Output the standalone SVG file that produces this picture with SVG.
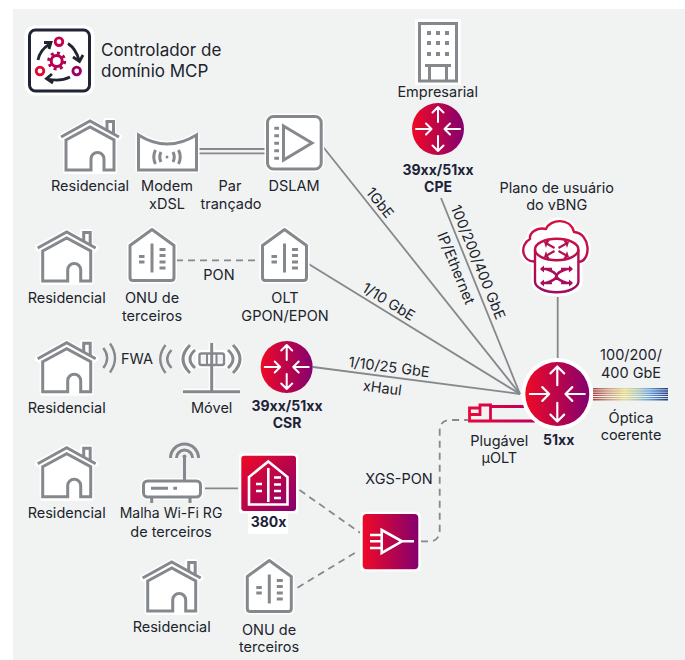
<svg xmlns="http://www.w3.org/2000/svg" width="685" height="660" viewBox="0 0 685 660">
<style>
text{font-family:Inter,"Liberation Sans",sans-serif;font-size:14.5px;fill:#20232b;text-anchor:middle}
.b{font-weight:700;font-size:14px;fill:#1d2238}
.ln{fill:none;stroke:#85898d;stroke-width:1.8}
.dash{stroke-dasharray:7 5}
.g{fill:none;stroke:#85898d;stroke-width:3;stroke-linecap:butt;stroke-linejoin:miter}
.gr{fill:none;stroke:#85898d;stroke-width:3;stroke-linejoin:round}
.halo{fill:#fff;stroke:#fff;stroke-width:6;stroke-linejoin:round}
.haloN{fill:none;stroke:#fff;stroke-width:6;stroke-linejoin:round}
.w{fill:none;stroke:#fff;stroke-width:2;stroke-linecap:round;stroke-linejoin:round}
.w3{fill:none;stroke:#fff;stroke-width:2.6;stroke-linejoin:miter}
.dk{fill:none;stroke:#1f2533;stroke-width:2.8}
.rb{fill:none;stroke:url(#rainbow);stroke-width:1.4}
.v{fill:none;stroke:url(#vg);stroke-width:2.4;stroke-linejoin:round}
</style>
<defs>
<linearGradient id="rg"><stop offset="0" stop-color="#ef0a26"/><stop offset="1" stop-color="#85006f"/></linearGradient>
<linearGradient id="rg2" x1="0" y1="0" x2="1" y2="1"><stop offset="0" stop-color="#ef0a26"/><stop offset="1" stop-color="#85006f"/></linearGradient>
<linearGradient id="vg" gradientUnits="userSpaceOnUse" x1="556" y1="218" x2="556" y2="293"><stop offset="0" stop-color="#d8103c"/><stop offset="1" stop-color="#9c0c64"/></linearGradient>
<linearGradient id="pl" gradientUnits="userSpaceOnUse" x1="468" y1="0" x2="535" y2="0"><stop offset="0" stop-color="#e8083a"/><stop offset="1" stop-color="#b8005e"/></linearGradient>
<linearGradient id="rainbow" gradientUnits="userSpaceOnUse" x1="593" y1="0" x2="668" y2="0"><stop offset="0" stop-color="#a8403f"/><stop offset=".2" stop-color="#c89a80"/><stop offset=".42" stop-color="#e8dc88"/><stop offset=".6" stop-color="#a8c8b0"/><stop offset=".75" stop-color="#6aa0dc"/><stop offset="1" stop-color="#1c3c80"/></linearGradient>
<g id="house">
<path class="halo" d="M-29,17 L0,1 L16,10 V1 H23 V14 L29,17 L24,20 V51 H-24 V20 Z"/>
<path class="g" d="M-29,17 L0,1 L29,17"/>
<path class="g" d="M17,10 V1.500 H23.500 V14"/>
<path class="g" d="M-24,20 L0,7 L24,20 V50 H14 V39 A6.500,6.500 0 0 0 1,39 V50 H-24 Z"/>
</g>
<g id="onu">
<path class="halo" d="M0,0 L22,16 V48 Q22,51 19,51 H-19 Q-22,51 -22,48 V16 Z"/>
<path class="gr" d="M0,0 L22,16 V48 Q22,51 19,51 H-19 Q-22,51 -22,48 V16 Z"/>
<path class="gr" d="M0,14 V43"/>
<path class="g" d="M-13,27 H-7.500 M-13,32.500 H-7.500 M7.500,20 H13.500 M7.500,26 H13.500 M7.500,32.500 H13.500 M7.500,38.500 H13.500"/>
</g>
<g id="arr">
<path d="M0,-7 V-22 M-5.500,-16.500 L0,-22 L5.500,-16.500 M0,7 V22 M-5.500,16.500 L0,22 L5.500,16.500 M-22,0 H-6.500 M-12,-5.500 L-6.500,0 L-12,5.500 M22,0 H6.500 M12,-5.500 L6.500,0 L12,5.500"/>
</g>
</defs>
<rect x="13" y="9" width="672" height="651" fill="#f1f3f3"/>

<g id="connectors">
<path class="ln" d="M320,143 L520,394"/>
<path class="ln" d="M307,263 L520,394"/>
<path class="ln" d="M313,367 L520,394"/>
<path class="ln" d="M441,198 L520,394"/>
<path class="ln" d="M557.700,297 V358"/>
<path class="ln" d="M197,149 H265 M197,153.300 H265"/>
<path class="ln dash" d="M176,260.300 H260"/>
<path class="ln" d="M205,488.300 H238"/>
<path class="ln dash" d="M299.500,490 L360,532.700"/>
<path class="ln dash" d="M297.500,587.700 L358.500,550.700"/>
<path class="ln dash" d="M421,541.300 H429 Q439.700,541.300 439.700,530 V431 Q439.700,420 450,420 H468"/>
<path class="ln" d="M103.300,348 Q111,358 103.300,368 M110,343.500 Q120,358 110,372.500" style="stroke-width:2.400"/>
<path class="ln" d="M171.500,350 Q163,359 171.500,368 M165.500,345 Q155,359 165.500,373" style="stroke-width:2.400"/>
</g>

<g id="controller">
<rect x="28.500" y="29.500" width="62" height="62" rx="6" fill="#fff" stroke="#fff" stroke-width="8"/>
<rect x="29.500" y="30" width="60" height="61" rx="6" fill="#fff" stroke="#1f2533" stroke-width="3"/>
<circle cx="59" cy="41.700" r="3.800" fill="none" stroke="#c5004f" stroke-width="2.800"/>
<circle cx="40" cy="71" r="3.800" fill="none" stroke="#e0082f" stroke-width="2.800"/>
<circle cx="76.700" cy="71" r="3.800" fill="none" stroke="#9a0068" stroke-width="2.800"/>
<circle cx="56.700" cy="61" r="5.500" fill="none" stroke="#b50052" stroke-width="3"/>
<circle cx="56.700" cy="61" r="8" fill="none" stroke="#b50052" stroke-width="3" stroke-dasharray="3 3.280"/>
<path class="dk" d="M38,60 Q40,50 49,44.500 M44,42.500 L51,42.500 L49,49"/>
<path class="dk" d="M68,43.500 Q76,49 79,60 M73,57 L79.500,61.500 L83,55"/>
<path class="dk" d="M70,77 Q60,82 47.500,79 M52,74 L46.500,78.700 L53,83"/>
<text x="101" y="56" style="text-anchor:start;font-size:17px">Controlador de</text>
<text x="101" y="76.500" style="text-anchor:start;font-size:17px">domínio MCP</text>
</g>

<g id="res1"><use href="#house" x="90" y="120"/><text x="90" y="191">Residencial</text></g>
<g id="modem">
<path class="halo" d="M138.500,135 Q167,153 196.500,135 V170 H138.500 Z"/>
<path class="g" d="M138.500,135 Q167,153 196.500,135 V170 H138.500 Z"/>
<path class="g" d="M155.500,150 Q152,157 155.500,164 M161,152 Q158.500,157 161,162 M173,152 Q175.500,157 173,162 M178.500,150 Q182,157 178.500,164"/>
<circle cx="167" cy="157" r="1.500" fill="#85898d"/>
<text x="167" y="191">Modem</text><text x="167" y="209">xDSL</text>
</g>
<g id="par"><text x="230" y="191">Par</text><text x="231" y="209">trançado</text></g>
<g id="dslam">
<rect class="halo" x="267.500" y="116.500" width="53.700" height="52.500" rx="6"/>
<rect class="gr" x="267.500" y="116.500" width="53.700" height="52.500" rx="6"/>
<path class="g" d="M283.500,126 L312,143 L283.500,160 Z"/>
<path class="g" d="M274.300,128.300 H279 M274.300,135.800 H279 M274.300,143.300 H279 M274.300,150.800 H279 M274.300,158.300 H279"/>
<text x="294" y="191">DSLAM</text>
</g>
<g id="empresarial">
<rect x="415" y="19" width="46" height="66" fill="#fff"/>
<rect class="g" x="419.500" y="23.500" width="37" height="57.500"/>
<path class="g" d="M425,65.500 H451 M429.500,65.500 V80 M446.500,65.500 V80"/>
<path d="M427,31h4v4h-4z M436,31h4v4h-4z M445,31h4v4h-4z M427,41h4v4h-4z M436,41h4v4h-4z M445,41h4v4h-4z M427,52h4v4h-4z M436,52h4v4h-4z M445,52h4v4h-4z" fill="#85898d"/>
<text x="437.700" y="96.700">Empresarial</text>
</g>
<g id="cpe">
<circle cx="438" cy="129" r="26" fill="url(#rg)"/>
<use href="#arr" x="438" y="129" class="w"/>
<text class="b" x="438" y="175">39xx/51xx</text><text class="b" x="438" y="192">CPE</text>
</g>
<g id="vbng">
<path d="M534,261 C522,262 519,245 530,239 C529,232 538,227 546,229 C550,219 570,217 574,232 C590,233 592,260 579,262 V282 A21.700,10.700 0 0 1 535,282 V262 Z" fill="#fff" stroke="#fff" stroke-width="7" stroke-linejoin="round"/>
<path class="v" d="M535,261.500 C522,262 519,245 530,239 C529,232 538,227 546,229 C550,219 570,217 574,232 C590,233 592,260 579,262"/>
<ellipse class="v" cx="556.700" cy="249.500" rx="21.700" ry="10.700"/>
<path class="v" d="M535,249.500 V281.500 A21.700,10.700 0 0 0 578.400,281.500 V249.500"/>
<path d="M548,243l7,4-1,2-7-4-1,3-2-6 6-2z M565,243l-7,4 1,2 7-4 1,3 2-6-6-2z M548,256l7-4-1-2-7,4-1-3-2,6 6,2z M565,256l-7-4 1-2 7,4 1-3 2,6-6,2z" fill="#b0104f"/>
<path class="v" d="M546,269 Q556,272 556.500,276 Q557,280 567,283 M567,269 Q557,272 556.500,276 Q556,280 546,283 M541,269 H552 M561,269 H572 M541,283 H552 M561,283 H572"/>
<path d="M540,269l4-3.500v7z M573,269l-4-3.500v7z M540,283l4-3.500v7z M573,283l-4-3.500v7z" fill="#ac0c58"/>
<text x="556.700" y="192.500">Plano de usuário</text><text x="556.700" y="210">do vBNG</text>
</g>

<g id="res2"><use href="#house" x="66.700" y="231"/><text x="66.700" y="303">Residencial</text></g>
<g id="onu1"><use href="#onu" x="152" y="229.500"/><text x="152" y="303">ONU de</text><text x="152" y="321">terceiros</text></g>
<g id="olt"><use href="#onu" x="284.500" y="229.500"/><text x="285" y="303">OLT</text><text x="285" y="321">GPON/EPON</text></g>
<text x="219" y="280">PON</text>

<g id="res3"><use href="#house" x="66.700" y="341.700"/><text x="66.700" y="412.700">Residencial</text></g>
<text x="137" y="364">FWA</text>
<g id="movel">
<path class="haloN" d="M190,345 Q176,359 190,373 M195,350 Q185,359 195,368 M233,345 Q247,359 233,373 M228,350 Q238,359 228,368 M183,391.700 H240 M211.700,343 V391.700 M198.500,353 H225 V365 H198.500 Z"/>
<path class="g" d="M190,345 Q176,359 190,373 M195,350 Q185,359 195,368 M233,345 Q247,359 233,373 M228,350 Q238,359 228,368"/>
<path class="g" d="M183,391.700 H240 M211.700,343 V391.700"/>
<rect class="g" x="199.500" y="353.500" width="24.500" height="11.500" rx="2" style="stroke-width:2.400"/>
<path class="g" d="M207,353.500 V365 M216.500,353.500 V365" style="stroke-width:2"/>
<text x="211.700" y="413">Móvel</text>
</g>
<g id="csr">
<circle cx="286.700" cy="367" r="26" fill="url(#rg)"/>
<use href="#arr" x="286.700" y="367" class="w"/>
<text class="b" x="287" y="410.500">39xx/51xx</text><text class="b" x="287" y="427.500">CSR</text>
</g>

<g id="labels">
<text transform="translate(376,206) rotate(51.500)">1GbE</text>
<text transform="translate(386,306) rotate(31.600)">1/10 GbE</text>
<text transform="translate(388.400,372) rotate(7.400)">1/10/25 GbE</text>
<text transform="translate(381.700,393) rotate(7.400)">xHaul</text>
<text transform="translate(473.400,264) rotate(68)">100/200/400 GbE</text>
<text transform="translate(451.400,270) rotate(68)">IP/Ethernet</text>
<text x="399" y="484">XGS-PON</text>
</g>

<g id="uolt">
<path d="M469.500,421 V408 H480 V405 H490.500 V421 Z M469.500,414.500 H480 V408 M490.500,406.500 H535 M490.500,421 H535" fill="none" stroke="url(#pl)" stroke-width="2.800"/>
<text x="499.300" y="445.700">Plugável</text><text x="499.300" y="463">µOLT</text>
</g>
<g id="r51">
<circle cx="557.300" cy="394" r="36" fill="#fff"/>
<circle cx="557.300" cy="394" r="32" fill="url(#rg)"/>
<use href="#arr" transform="translate(557.300,394) scale(1.250)" class="w" style="stroke-width:1.700"/>
<text class="b" x="558.700" y="445">51xx</text>
</g>
<g id="coherent">
<path class="rb" d="M593,388.800 H668 M593,391 H668 M593,393.200 H668 M593,395.400 H668 M593,397.600 H668 M593,399.800 H668"/>
<text x="631" y="360">100/200/</text><text x="631" y="377.700">400 GbE</text>
<text x="631" y="423">Óptica</text><text x="631" y="440">coerente</text>
</g>

<g id="res4"><use href="#house" x="66.700" y="446.700"/><text x="66.700" y="518">Residencial</text></g>
<g id="wifi">
<rect class="halo" x="143.500" y="481" width="57" height="16" rx="4"/>
<path class="gr" d="M170.500,458 A14,14 0 0 1 198.500,458 M176.500,458 A8,8 0 0 1 192.500,458"/>
<path class="g" d="M184.500,457 V480 M151.700,497 V503 M190,497 V503"/>
<circle cx="184.500" cy="456.500" r="2" fill="#85898d"/>
<rect class="gr" x="143.500" y="481" width="57" height="16" rx="4"/>
<path class="g" d="M151,488.300 H168 M173.300,488.300 H177"/>
<text x="171" y="518" style="font-size:14px">Malha Wi-Fi RG</text><text x="171" y="536.700">de terceiros</text>
</g>
<g id="n380">
<rect x="239" y="453.500" width="59" height="60" rx="3" fill="#fff"/>
<rect x="248" y="512" width="40" height="22" rx="2" fill="#fff"/>
<rect x="241.300" y="455.700" width="54.700" height="55.300" rx="3" fill="url(#rg2)"/>
<path class="w3" d="M268.300,461.500 L287.500,477 V504.500 H249 V477 Z"/>
<path class="w3" d="M268.300,468 V502"/>
<path class="w3" d="M256,484 H262 M256,491 H262 M274,477.500 H281 M274,484.500 H281 M274,491 H281 M274,498 H281"/>
<text class="b" x="268.500" y="526.700">380x</text>
</g>
<g id="res5"><use href="#house" x="171.700" y="561"/><text x="171.700" y="632">Residencial</text></g>
<g id="onu2"><use href="#onu" x="269.300" y="560.500"/><text x="269" y="635">ONU de</text><text x="269" y="652">terceiros</text></g>
<g id="amp">
<rect x="360.500" y="511.800" width="60" height="59.700" rx="4" fill="#fff"/>
<rect x="362.700" y="514" width="55.600" height="55.300" rx="4" fill="url(#rg)"/>
<path class="w3" d="M381.700,530 L402,541.300 L381.700,553 Z M402,541.300 H414 M370,535 H381.700 M370,541.300 H381.700 M370,548 H381.700"/>
</g>
</svg>
